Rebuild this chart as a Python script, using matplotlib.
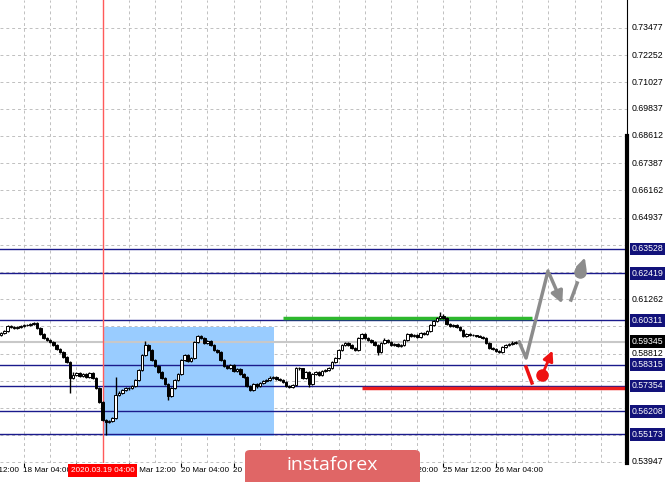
import numpy as np
import matplotlib.pyplot as plt
from matplotlib.patches import Rectangle, FancyBboxPatch
import matplotlib.transforms as mtransforms

plt.rcParams['font.family'] = ['Liberation Sans', 'DejaVu Sans']

# =====================================================================
# Data (H1 candles)
# =====================================================================

first_open = 0.5966
closes = [
    0.5974, 0.5983, 0.6005, 0.6001, 0.5996, 0.6001, 0.6005, 0.6010, 0.6010, 0.6014,
    0.6019, 0.5996, 0.5969, 0.5951, 0.5942, 0.5933, 0.5920, 0.5902, 0.5888, 0.5866,
    0.5843, 0.5771, 0.5785, 0.5794, 0.5780, 0.5789, 0.5776, 0.5794, 0.5771, 0.5726,
    0.5663, 0.5582, 0.5573, 0.5578, 0.5591, 0.5695, 0.5704, 0.5717, 0.5726, 0.5724,
    0.5735, 0.5762, 0.5807, 0.5875, 0.5920, 0.5897, 0.5852, 0.5825, 0.5798, 0.5771,
    0.5744, 0.5690, 0.5726, 0.5762, 0.5789, 0.5852, 0.5875, 0.5848, 0.5861, 0.5933,
    0.5960, 0.5951, 0.5929, 0.5938, 0.5920, 0.5897, 0.5888, 0.5852, 0.5825, 0.5816,
    0.5830, 0.5803, 0.5812, 0.5789, 0.5776, 0.5735, 0.5717, 0.5744, 0.5735, 0.5749,
    0.5758, 0.5762, 0.5771, 0.5776, 0.5767, 0.5762, 0.5753, 0.5735, 0.5731, 0.5740,
    0.5816, 0.5814, 0.5771, 0.5798, 0.5744, 0.5789, 0.5798, 0.5785, 0.5803, 0.5807,
    0.5816, 0.5843, 0.5861, 0.5897, 0.5920, 0.5929, 0.5920, 0.5906, 0.5897, 0.5951,
    0.5969, 0.5951, 0.5942, 0.5933, 0.5920, 0.5888, 0.5929, 0.5942, 0.5933, 0.5920,
    0.5924, 0.5915, 0.5920, 0.5942, 0.5969, 0.5960, 0.5965, 0.5956, 0.5974, 0.5969,
    0.5983, 0.6010, 0.6028, 0.6041, 0.6050, 0.6041, 0.6014, 0.6005, 0.6010, 0.6001,
    0.5987, 0.5960, 0.5969, 0.5965, 0.5963, 0.5960, 0.5958, 0.5951, 0.5929, 0.5906,
    0.5902, 0.5893, 0.5888, 0.5911, 0.5920, 0.5924, 0.5929, 0.5933, 0.59345,
]
highs = [
    0.5978, 0.5987, 0.6010, 0.6009, 0.6004, 0.6005, 0.6009, 0.6014, 0.6014, 0.6018,
    0.6023, 0.6022, 0.5999, 0.5973, 0.5955, 0.5946, 0.5937, 0.5924, 0.5906, 0.5892,
    0.5870, 0.5847, 0.5796, 0.5799, 0.5798, 0.5794, 0.5793, 0.5798, 0.5798, 0.5775,
    0.5730, 0.5667, 0.5586, 0.5584, 0.5596, 0.5776, 0.5713, 0.5722, 0.5731, 0.5730,
    0.5740, 0.5766, 0.5812, 0.5880, 0.5938, 0.5925, 0.5901, 0.5856, 0.5829, 0.5802,
    0.5775, 0.5748, 0.5730, 0.5767, 0.5794, 0.5857, 0.5880, 0.5879, 0.5866, 0.5938,
    0.5965, 0.5964, 0.5955, 0.5943, 0.5942, 0.5924, 0.5901, 0.5892, 0.5856, 0.5830,
    0.5835, 0.5834, 0.5817, 0.5816, 0.5793, 0.5780, 0.5739, 0.5749, 0.5748, 0.5754,
    0.5762, 0.5766, 0.5780, 0.5781, 0.5780, 0.5771, 0.5766, 0.5757, 0.5740, 0.5744,
    0.5820, 0.5820, 0.5818, 0.5803, 0.5802, 0.5793, 0.5803, 0.5802, 0.5807, 0.5812,
    0.5820, 0.5848, 0.5866, 0.5901, 0.5925, 0.5934, 0.5933, 0.5924, 0.5910, 0.5956,
    0.5974, 0.5973, 0.5955, 0.5946, 0.5937, 0.5924, 0.5933, 0.5951, 0.5946, 0.5937,
    0.5929, 0.5928, 0.5924, 0.5946, 0.5974, 0.5973, 0.5969, 0.5969, 0.5978, 0.5978,
    0.5987, 0.6014, 0.6032, 0.6046, 0.6068, 0.6059, 0.6045, 0.6018, 0.6014, 0.6014,
    0.6005, 0.5991, 0.5974, 0.5973, 0.5969, 0.5967, 0.5964, 0.5962, 0.5955, 0.5933,
    0.5910, 0.5906, 0.5897, 0.5915, 0.5924, 0.5929, 0.5938, 0.5938, 0.5942,
]
lows = [
    0.5962, 0.5971, 0.5980, 0.5998, 0.5992, 0.5993, 0.5998, 0.6002, 0.6006, 0.6007,
    0.6011, 0.5992, 0.5965, 0.5947, 0.5938, 0.5929, 0.5916, 0.5898, 0.5884, 0.5862,
    0.5839, 0.5704, 0.5766, 0.5780, 0.5776, 0.5776, 0.5771, 0.5772, 0.5765, 0.5720,
    0.5658, 0.5577, 0.5514, 0.5569, 0.5574, 0.5587, 0.5690, 0.5699, 0.5713, 0.5719,
    0.5720, 0.5731, 0.5758, 0.5803, 0.5871, 0.5893, 0.5848, 0.5820, 0.5794, 0.5767,
    0.5740, 0.5672, 0.5686, 0.5722, 0.5758, 0.5785, 0.5848, 0.5844, 0.5844, 0.5857,
    0.5929, 0.5946, 0.5925, 0.5925, 0.5916, 0.5893, 0.5884, 0.5848, 0.5820, 0.5811,
    0.5812, 0.5799, 0.5799, 0.5785, 0.5772, 0.5731, 0.5713, 0.5713, 0.5724, 0.5731,
    0.5745, 0.5754, 0.5758, 0.5767, 0.5763, 0.5758, 0.5749, 0.5731, 0.5727, 0.5727,
    0.5736, 0.5809, 0.5767, 0.5767, 0.5731, 0.5740, 0.5785, 0.5781, 0.5781, 0.5799,
    0.5803, 0.5812, 0.5839, 0.5857, 0.5893, 0.5915, 0.5915, 0.5902, 0.5893, 0.5893,
    0.5947, 0.5946, 0.5938, 0.5929, 0.5916, 0.5875, 0.5884, 0.5925, 0.5929, 0.5916,
    0.5915, 0.5911, 0.5911, 0.5916, 0.5938, 0.5956, 0.5956, 0.5952, 0.5952, 0.5965,
    0.5965, 0.5979, 0.6006, 0.6024, 0.6037, 0.6037, 0.6010, 0.6001, 0.6001, 0.5997,
    0.5983, 0.5956, 0.5956, 0.5961, 0.5959, 0.5956, 0.5954, 0.5947, 0.5925, 0.5902,
    0.5898, 0.5889, 0.5884, 0.5884, 0.5907, 0.5915, 0.5920, 0.5925, 0.5929,
]
opens = [first_open] + closes[:-1]

# price scale labels on the right
grid_prices = [0.73477, 0.72252, 0.71027, 0.69837, 0.68612, 0.67387, 0.66162, 0.64937,
               0.63712, 0.62487, 0.61262, 0.60037, 0.58812, 0.57587, 0.56362, 0.55137, 0.53947]
level_prices = [0.63528, 0.62419, 0.60311, 0.58315, 0.57354, 0.56208, 0.55173]
current_price = 0.59345

# time axis labels (bar index, text); labels fully hidden behind the overlays are left out
tick_bars = [7, 23, 39, 55, 71, 87, 103, 119, 135, 151]
label_bars = [-9, 7, 39, 55, 71, 119, 135, 151]
time_labels = ['17 Mar 12:00', '18 Mar 04:00', '19 Mar 12:00', '20 Mar 04:00',
               '20 Mar 20:00', '24 Mar 20:00', '25 Mar 12:00', '26 Mar 04:00']
vline_bar = 31
vline_label = '2020.03.19 04:00'

# drawn objects
box_bars = [31.1, 83.3]
box_prices = [0.55099, 0.60008]
green_bars = [86, 162]
green_price = 0.6041
red_bars = [110, 192]
red_price = 0.5726

# forecast sketch
gray_path_x = [158.1, 160.2, 166.9]
gray_path_y = [0.59333, 0.58612, 0.62531]
gray_arrow = [(166.9, 0.62531), (171.6, 0.60950)]
gray_dash_x = [173.9, 175.8]
gray_dash_y = [0.61224, 0.61990]
gray_ball = (176.7, 0.62486)
gray_ball_arrow = (178.4, 0.63250)
red_dash_x = [160.2, 162.0]
red_dash_y = [0.58207, 0.57487]
red_ball = (165.1, 0.57847)
red_ball_arrow = (168.6, 0.59060)

# =====================================================================
# Plot
# =====================================================================

W, H = 665, 482
fig = plt.figure(figsize=(W / 100, H / 100), dpi=100)
ax = fig.add_axes([0, 1 - 463 / H, 627 / W, 463 / H])
ax.set_xlim(-0.3, 191.0)
ax.set_ylim(0.53882, 0.74738)
for s in ['top', 'left', 'bottom']:
    ax.spines[s].set_visible(False)
ax.spines['right'].set_color('black')
ax.spines['right'].set_linewidth(0.8)

# grid
grid_kw = dict(color='#c0c0c0', linestyle=(0, (3, 3)), linewidth=0.7, zorder=0)
for p in grid_prices:
    ax.axhline(p, **grid_kw)
for b in np.arange(-1, 192, 8):
    ax.axvline(b, **grid_kw)

# rectangle zone
ax.add_patch(Rectangle((box_bars[0], box_prices[0]), box_bars[1] - box_bars[0],
                       box_prices[1] - box_prices[0], facecolor='#99ccff', edgecolor='none', zorder=1))

# level lines
for p in level_prices:
    ax.axhline(p, color='#1a1a8c', linewidth=1.0, zorder=2)
ax.axhline(current_price, color='#c8c8c8', linewidth=1.5, zorder=2)
ax.axvline(vline_bar, color='#ff5a5a', linewidth=1.0, zorder=2)

ax.plot(green_bars, [green_price, green_price], color='#2eb82e', linewidth=2.5, zorder=3, solid_capstyle='butt')
ax.plot(red_bars, [red_price, red_price], color='#ee2020', linewidth=2.5, zorder=3, solid_capstyle='butt')

# candles
idx = np.arange(len(closes))
o = np.array(opens)
c = np.array(closes)
ax.vlines(idx, lows, highs, color='black', linewidth=1.0, zorder=4)
bottoms = np.minimum(o, c)
heights = np.maximum(np.abs(c - o), 0.00008)
face = ['white' if cc >= oo else 'black' for oo, cc in zip(o, c)]
ax.bar(idx, heights, bottom=bottoms, width=0.8, color=face, edgecolor='black', linewidth=0.7, zorder=5)

# forecast sketch
gray = '#8c8c8c'
ax.plot(gray_path_x, gray_path_y, color=gray, linewidth=2.5, zorder=6, solid_capstyle='round')
ax.annotate('', xy=gray_arrow[1], xytext=gray_arrow[0],
            arrowprops=dict(arrowstyle='-|>,head_length=0.7,head_width=0.35', color=gray, lw=2.5), zorder=6)
ax.plot(gray_dash_x, gray_dash_y, color=gray, linewidth=2.5, zorder=6)
ax.annotate('', xy=gray_ball_arrow, xytext=gray_ball,
            arrowprops=dict(arrowstyle='-|>,head_length=0.6,head_width=0.3', color=gray, lw=2), zorder=6)
ax.plot(*gray_ball, 'o', color=gray, markersize=8, zorder=7)

red = '#ee1111'
ax.plot(red_dash_x, red_dash_y, color=red, linewidth=2.5, zorder=6)
ax.annotate('', xy=red_ball_arrow, xytext=red_ball,
            arrowprops=dict(arrowstyle='-|>,head_length=0.6,head_width=0.3', color=red, lw=2), zorder=6)
ax.plot(*red_ball, 'o', color=red, markersize=8, zorder=7)

# price scale (right)
ax.set_yticks([])
trans = mtransforms.blended_transform_factory(ax.transAxes, ax.transData)
fs = 6.3
for p in grid_prices:
    if any(abs(p - q) < 0.004 for q in level_prices + [current_price]):
        continue
    ax.text(1.008, p, f'{p:.5f}', transform=trans, fontsize=fs, va='center', ha='left', clip_on=False)
for p in level_prices:
    ax.text(1.008, p, f'{p:.5f}', transform=trans, fontsize=fs, va='center', ha='left', color='white',
            clip_on=False, bbox=dict(boxstyle='square,pad=0.2', facecolor='#12127a', edgecolor='none'))
ax.text(1.008, current_price, f'{current_price:.5f}', transform=trans, fontsize=fs, va='center', ha='left',
        color='white', clip_on=False, bbox=dict(boxstyle='square,pad=0.2', facecolor='black', edgecolor='none'))
ax.plot([1, 1], [0.53882, 0.68612], transform=trans, color='black', linewidth=3, clip_on=False, zorder=10)

# time scale (bottom)
ax.set_xticks(tick_bars)
ax.set_xticklabels([])
ax.tick_params(axis='x', length=3, width=0.8, color='black', direction='out')
xtrans = mtransforms.blended_transform_factory(ax.transData, ax.transAxes)
for b, lab in zip(label_bars, time_labels):
    ax.text(b - 0.2, -0.009, lab, transform=xtrans, fontsize=5.9, va='top', ha='left', clip_on=False)
ax.text(vline_bar, -0.009, vline_label, transform=xtrans,
        fontsize=5.9, va='top', ha='center', color='white', clip_on=False, zorder=11,
        bbox=dict(boxstyle='square,pad=0.35', facecolor='#ff0000', edgecolor='none'))

# watermark banner
fig.patches.append(FancyBboxPatch((245 / W, -0.05), 175 / W, (32 / H) + 0.05, transform=fig.transFigure,
                                  boxstyle='round,pad=0,rounding_size=0.008', facecolor='#e06666',
                                  edgecolor='none', zorder=20))
fig.text(332 / W, 1 - 465 / H, 'instaforex', color='white', fontsize=14, ha='center', va='center',
         family='Open Sans', zorder=21)

fig.savefig('out.png', dpi=100)
